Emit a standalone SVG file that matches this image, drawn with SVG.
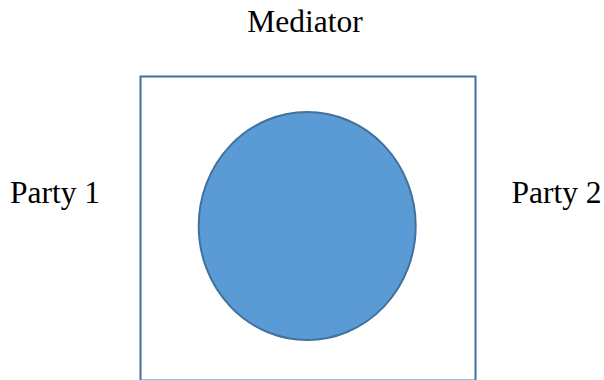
<svg xmlns="http://www.w3.org/2000/svg" width="604" height="380" viewBox="0 0 604 380">
<style>
.lbl{font-family:"Liberation Serif","Times New Roman",serif;font-size:31.5px;fill:#000;text-anchor:middle}
</style>
<rect width="604" height="380" fill="#fff"/>
<g id="frame"><rect x="140.5" y="76.5" width="335" height="304" fill="#fff" stroke="#41719C" stroke-width="2"/></g>
<g id="circle"><ellipse cx="307.2" cy="226" rx="108.5" ry="114" fill="#5B9BD5" stroke="#41719C" stroke-width="2"/></g>
<g id="mediator"><text class="lbl" x="305" y="32">Mediator</text></g>
<g id="party1"><text class="lbl" x="55" y="203">Party 1</text></g>
<g id="party2"><text class="lbl" x="556.5" y="203">Party 2</text></g>
<g id="connectors"/>
</svg>
